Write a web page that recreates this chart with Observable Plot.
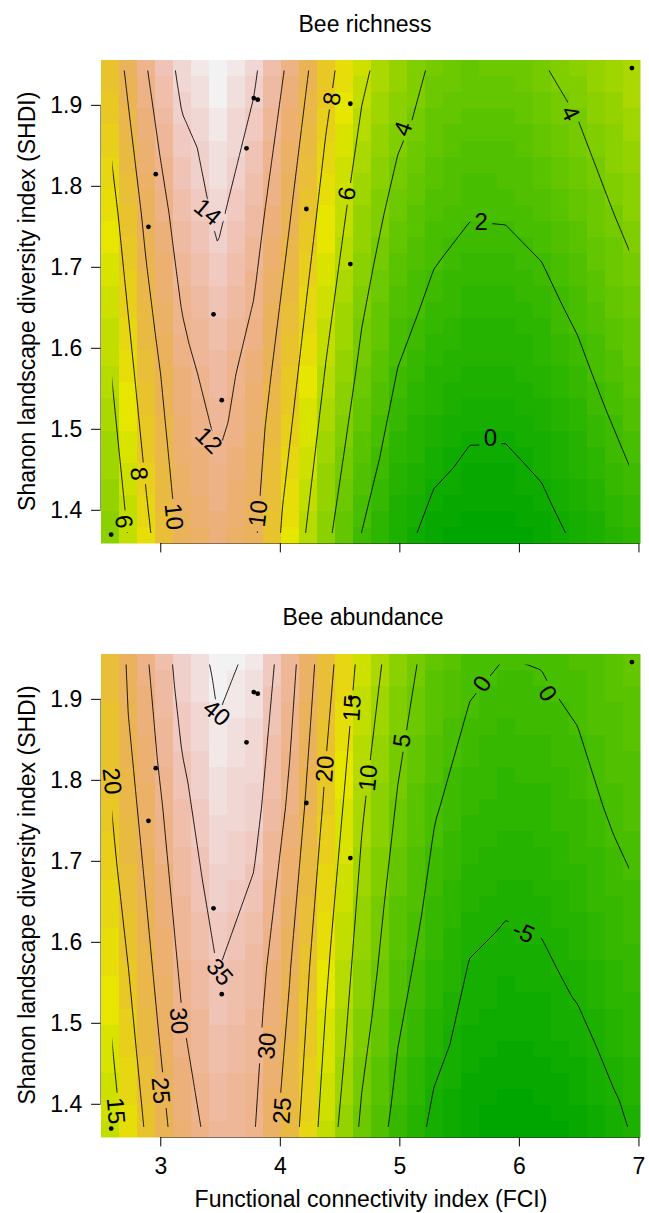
<!DOCTYPE html>
<html><head><meta charset="utf-8">
<script src="https://cdn.jsdelivr.net/npm/d3@7"></script>
<script src="https://cdn.jsdelivr.net/npm/@observablehq/plot@0.6"></script>
<style>
body{margin:0;background:#fff;}
#wrap{position:relative;width:649px;height:1213px;overflow:hidden;font-family:"Liberation Sans",Arial,Helvetica,sans-serif;}
#wrap > svg{position:absolute;left:0;}
</style></head>
<body><div id="wrap"></div>
<script>
// ---------- data ----------
// sample grid (FCI columns, SHDI rows) of the fitted surfaces; outer samples sit on the panel edges
const fciGrid  = [2.500, 2.876, 3.177, 3.478, 3.779, 4.080, 4.380, 4.681, 4.982, 5.283, 5.584, 5.885, 6.186, 6.487, 6.788, 7.013];
const shdiGrid = [1.359, 1.568, 1.767, 1.956];

const richness_1359 = [3.6, 7.53, 10.33, 11.23, 10.23, 7.13, 4.33, 1.88, 0.38, -0.51, -0.87, -0.88, -0.54, 0.13, 0.93, 1.5];
const richness_1568 = [5.1, 9.0, 11.45, 12.7, 11.3, 8.6, 5.9, 3.6, 1.94, 1.07, 0.63, 0.61, 0.96, 1.66, 2.5, 3.1];
const richness_1767 = [6.55, 10.4, 12.9, 14.3, 12.8, 10.1, 7.3, 5.0, 3.4, 2.5, 2.08, 2.11, 2.45, 3.07, 4.0, 4.6];
const richness_1956 = [8.1, 11.98, 14.58, 15.48, 14.38, 11.68, 8.68, 6.43, 4.98, 3.83, 3.43, 3.48, 3.98, 4.58, 5.28, 5.87];

const abundance_1359 = [10.6, 20.24, 27.65, 31.74, 30.18, 22.36, 12.76, 4.03, -1.76, -6.11, -8.29, -9.23, -9.01, -7.96, -6.06, -4.41];
const abundance_1568 = [14.2, 23.7, 30.8, 35.1, 32.6, 25.2, 15.7, 7.7, 1.6, -2.3, -5.2, -5.93, -5.58, -4.2, -2.4, -1.2];
const abundance_1767 = [18.0, 26.7, 33.8, 38.3, 36.6, 29.1, 19.1, 10.5, 4.6, 0.4, -1.94, -2.8, -2.47, -1.25, 0.5, 1.55];
const abundance_1956 = [19.5, 29.55, 37.18, 41.15, 39.45, 31.95, 22.16, 13.67, 7.45, 3.25, 0.88, 0.05, 0.3, 1.12, 2.5, 3.87];

const richnessLevels  = [0, 2, 4, 6, 8, 10, 12, 14];
const abundanceLevels = [-5, 0, 5, 10, 15, 20, 25, 30, 35, 40];

// range of the model grid (contours are drawn inside it)
const fciRange  = [2.575, 6.938];
const shdiRange = [1.369, 1.946];

// sampled sites
const siteFCI  = [2.585, 2.897, 2.958, 3.441, 3.510, 3.717, 3.778, 3.811, 4.218, 4.586, 4.586, 6.941];
const siteSHDI = [1.370, 1.750, 1.815, 1.642, 1.536, 1.847, 1.909, 1.907, 1.772, 1.902, 1.704, 1.946];

// contour labels
const richLabelText  = ["14", "12", "10", "8", "6", "10", "8", "6", "4", "4", "2", "0"];
const richLabelFCI   = [3.390, 3.399, 3.106, 2.814, 2.688, 3.817, 4.436, 4.561, 5.029, 6.425, 5.681, 5.757];
const richLabelSHDI  = [1.768, 1.486, 1.392, 1.445, 1.386, 1.396, 1.908, 1.791, 1.871, 1.890, 1.755, 1.489];
const richLabelAngle = [40, 45, 84, 84, 83, -83, -82, -80, -70, 64, 0, 0];

const abunLabelText  = ["40", "35", "30", "25", "20", "15", "30", "25", "20", "15", "10", "5", "0", "0", "-5"];
const abunLabelFCI   = [3.466, 3.491, 3.148, 2.997, 2.588, 2.621, 3.892, 4.018, 4.377, 4.603, 4.737, 5.021, 5.690, 6.234, 6.033];
const abunLabelSHDI  = [1.883, 1.563, 1.503, 1.417, 1.799, 1.392, 1.472, 1.392, 1.814, 1.889, 1.803, 1.849, 1.919, 1.907, 1.612];
const abunLabelAngle = [40, 50, 85, 85, 84, 85, -85, -86, -86, -86, -84, -82, -57, 57, 24];

// axes
const xTicks = [3, 4, 5, 6, 7];
const yTicks = [1.4, 1.5, 1.6, 1.7, 1.8, 1.9];
const fciExtent  = [2.5, 7.013];
const shdiExtent = [1.359, 1.956];

const titles = ["Bee richness", "Bee abundance"];
const xTitle = "Functional connectivity index (FCI)";
const yTitle = "Shanon landscape diversity index (SHDI)";

// ---------- helpers ----------
function hsv(h, s, v) {
  const i = Math.floor(h * 6), f = h * 6 - i;
  const p = v * (1 - s), q = v * (1 - f * s), t = v * (1 - (1 - f) * s);
  let r, g, b;
  switch (((i % 6) + 6) % 6) {
    case 0: r = v; g = t; b = p; break;
    case 1: r = q; g = v; b = p; break;
    case 2: r = p; g = v; b = t; break;
    case 3: r = p; g = q; b = v; break;
    case 4: r = t; g = p; b = v; break;
    default: r = v; g = p; b = q;
  }
  return d3.rgb(Math.round(r * 255), Math.round(g * 255), Math.round(b * 255)).formatHex();
}
// R's terrain.colors(n)
function terrainColors(n) {
  const k = Math.floor(n / 2), cols = [];
  for (let i = 0; i < k; i++) {
    const f = i / (k - 1);
    cols.push(hsv(4 / 12 - (2 / 12) * f, 1, 0.65 + 0.25 * f));
  }
  const m = n - k + 1;
  for (let i = 1; i < m; i++) {
    const f = i / (m - 1);
    cols.push(hsv(2 / 12 - (2 / 12) * f, 1 - f, 0.9 + 0.05 * f));
  }
  return cols;
}
const palette = terrainColors(50);
const FONT = '"Liberation Sans", Arial, Helvetica, sans-serif';
const LABEL_SIZE = 24;

function samplesOf(rows) {
  const out = [];
  rows.forEach((row, j) => row.forEach((z, i) => out.push({x: fciGrid[i], y: shdiGrid[j], z})));
  return out;
}

const wrap = document.getElementById("wrap");

function panel({rows, levels, labText, labFCI, labSHDI, labAngle, showXLabels, top, height, marginBottom, id}) {
  const samples = samplesOf(rows);
  const [zmin, zmax] = d3.extent(samples, d => d.z);
  const breaks = d3.range(1, palette.length).map(k => zmin + k * (zmax - zmin) / palette.length);
  const sites = siteFCI.map((x, i) => ({x, y: siteSHDI[i]}));
  const labels = labText.map((t, i) => ({t, x: labFCI[i], y: labSHDI[i], a: labAngle[i]}));

  const plot = Plot.plot({
    width: 649, height,
    marginLeft: 100.5, marginRight: 9, marginTop: 59.5, marginBottom,
    x: {domain: fciExtent, label: null, axis: null},
    y: {domain: shdiExtent, label: null, axis: null},
    color: {type: "threshold", domain: breaks, range: palette},
    style: {fontFamily: FONT, fontSize: "23px", color: "black", background: "transparent"},
    marks: [
      Plot.ruleY([shdiExtent[0]], {x1: xTicks[0], x2: xTicks[xTicks.length - 1], stroke: "#222"}),
      Plot.ruleX([fciExtent[0]], {y1: yTicks[0], y2: yTicks[yTicks.length - 1], stroke: "#222"}),
      Plot.raster(samples, {
        x: "x", y: "y", fill: "z",
        x1: fciExtent[0], x2: fciExtent[1], y1: shdiExtent[0], y2: shdiExtent[1],
        width: 30, height: 30, interpolate: "barycentric", imageRendering: "pixelated"
      }),
      Plot.contour(samples, {
        x: "x", y: "y", value: "z",
        x1: fciRange[0], x2: fciRange[1], y1: shdiRange[0], y2: shdiRange[1],
        width: 260, height: 240, interpolate: "barycentric",
        thresholds: levels, stroke: "black", strokeWidth: 0.9, fill: "none"
      }),
      Plot.dot(sites, {x: "x", y: "y", r: 2.4, fill: "black", stroke: null}),
      Plot.text(labels, {x: "x", y: "y", text: "t", rotate: "a", fontSize: LABEL_SIZE, fill: "black"}),
      Plot.axisX(xTicks, {anchor: "bottom", tickSize: 9.4, tickPadding: 10.6, fontSize: 23,
        tickFormat: showXLabels ? (d => String(d)) : (() => ""), label: null}),
      Plot.axisY(yTicks, {anchor: "left", tickSize: 9.4, tickPadding: 9.4, fontSize: 23,
        tickFormat: d3.format(".1f"), label: null})
    ]
  });
  plot.style.top = top + "px";
  wrap.appendChild(plot);

  // break contour lines under their labels and hide the outline of the contour raster
  const sx = plot.scale("x"), sy = plot.scale("y");
  const svg = d3.select(plot);
  const defs = svg.insert("defs", ":first-child");
  const mask = defs.append("mask").attr("id", id).attr("maskUnits", "userSpaceOnUse")
    .attr("x", 0).attr("y", 0).attr("width", 649).attr("height", height);
  const cx1 = sx.apply(fciRange[0]), cx2 = sx.apply(fciRange[1]);
  const cy1 = sy.apply(shdiRange[1]), cy2 = sy.apply(shdiRange[0]);
  const inset = 2.4;
  mask.append("rect").attr("x", cx1 + inset).attr("y", cy1 + inset)
    .attr("width", cx2 - cx1 - 2 * inset).attr("height", cy2 - cy1 - 2 * inset).attr("fill", "white");
  labels.forEach(l => {
    const w = l.t.length * 0.58 * LABEL_SIZE + 8, h = 20;
    mask.append("rect").attr("x", -w / 2).attr("y", -h / 2).attr("width", w).attr("height", h)
      .attr("fill", "black")
      .attr("transform", `translate(${sx.apply(l.x)},${sy.apply(l.y)}) rotate(${l.a})`);
  });
  svg.selectAll('g[aria-label="contour"]').attr("mask", `url(#${id})`);
  return {plot, sx, sy};
}

const off = 593.6;
panel({rows: [richness_1359, richness_1568, richness_1767, richness_1956], levels: richnessLevels,
  labText: richLabelText, labFCI: richLabelFCI, labSHDI: richLabelSHDI, labAngle: richLabelAngle,
  showXLabels: false, top: 0, height: off, marginBottom: off - 543, id: "m1"});
panel({rows: [abundance_1359, abundance_1568, abundance_1767, abundance_1956], levels: abundanceLevels,
  labText: abunLabelText, labFCI: abunLabelFCI, labSHDI: abunLabelSHDI, labAngle: abunLabelAngle,
  showXLabels: true, top: off, height: 1213 - off, marginBottom: 1213 - off - 543, id: "m2"});

// titles
const overlay = d3.select(wrap).append("svg").attr("width", 649).attr("height", 1213)
  .style("top", "0px").style("pointer-events", "none")
  .attr("font-family", FONT).attr("font-size", 23).attr("fill", "black");
overlay.append("text").attr("x", 365).attr("y", 31.7).attr("text-anchor", "middle").text(titles[0]);
overlay.append("text").attr("x", 363).attr("y", 31.7 + off).attr("text-anchor", "middle").text(titles[1]);
overlay.append("text").attr("x", 371).attr("y", 1207).attr("text-anchor", "middle").text(xTitle);
[301.3, 301.3 + off].forEach(cy => {
  overlay.append("text").attr("transform", `translate(35,${cy}) rotate(-90)`)
    .attr("text-anchor", "middle").text(yTitle);
});
</script>
</body></html>
